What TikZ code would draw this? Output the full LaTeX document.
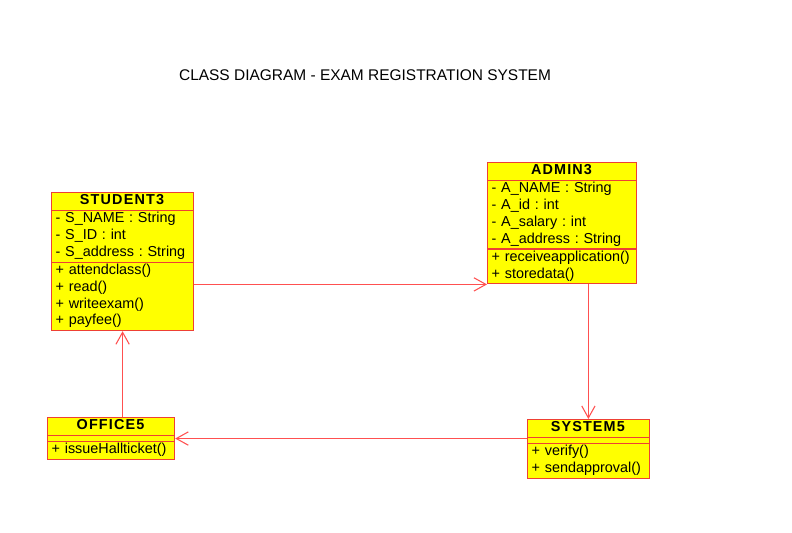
\documentclass[tikz,border=0pt]{standalone}
\usepackage{fontspec}
\setmainfont{Liberation Sans}
\usetikzlibrary{shapes.multipart,arrows.meta,positioning}
\definecolor{umlred}{RGB}{238,64,52}
\definecolor{linkred}{RGB}{255,80,80}
\definecolor{umlyellow}{RGB}{255,255,0}
\newcommand{\classname}[1]{\makebox[\linewidth][c]{\strut\textbf{\addfontfeature{LetterSpace=8}#1}}}

\begin{document}
\frenchspacing
\begin{tikzpicture}[x=0.75pt,y=-0.75pt,>={Straight Barb[length=9pt,width=10pt]},
	class box/.style={draw=umlred, fill=umlyellow, line width=0.9pt, anchor=north west,
		rectangle split, rectangle split parts=3,
		inner xsep=3pt, inner ysep=0pt, font=\fontsize{10.8}{12.6}\selectfont},
	link/.style={->, draw=linkred, line width=0.8pt}]
				\useasboundingbox (0,0) rectangle (792,532);
				
				\node[font=\fontsize{11.6}{14}\selectfont] (title) at (365,75) {CLASS DIAGRAM - EXAM REGISTRATION SYSTEM};
				
				\node[class box, text width=100.5pt] (student) at (51,192)
				{\classname{STUDENT3}
					\nodepart{two}\strut- S\_NAME : String\\- S\_ID : int\\- S\_address : String\strut
					\nodepart{three}\strut+ attendclass()\\+ read()\\+ writeexam()\\+ payfee()\strut};
				
				\node[class box, text width=105.75pt] (admin) at (487,162)
				{\classname{ADMIN3}
					\nodepart{two}\strut- A\_NAME : String\\- A\_id : int\\- A\_salary : int\\- A\_address : String\strut
					\nodepart{three}\strut+ receiveapplication()\\+ storedata()\strut};
				
				\node[class box, text width=89.25pt] (office) at (47,417)
				{\classname{OFFICE5}
					\nodepart{two}\rule{0pt}{3.5pt}
					\nodepart{three}\strut+ issueHallticket()\strut};
				
				\node[class box, text width=85.2pt] (system) at (527,419)
				{\classname{SYSTEM5}
					\nodepart{two}\rule{0pt}{3.5pt}
					\nodepart{three}\strut+ verify()\\+ sendapproval()\strut};
				
				\draw[link] (student.east |- admin.south west) -- (admin.south west);
				\draw[link] (admin.south -| system.north) -- (system.north);
				\draw[link] (system.west |- office.east) -- (office.east);
				\draw[link] (office.north -| student.south) -- (student.south);
				
\end{tikzpicture}
\end{document}
